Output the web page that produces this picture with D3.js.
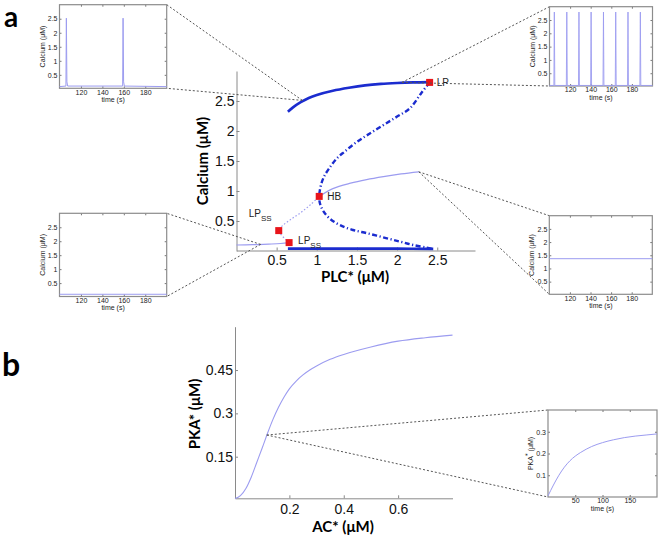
<!DOCTYPE html>
<html><head><meta charset="utf-8">
<script src="https://cdn.jsdelivr.net/npm/d3@7"></script>
<style>body{margin:0;background:#fff}svg{display:block}</style>
</head><body><svg id="c" width="661" height="539"></svg>
<script>
// ---------- DATA ----------
// Panel a: bifurcation diagram, Calcium vs PLC*
const plcTicks = [0.5, 1, 1.5, 2, 2.5];
const caTicks = [0.5, 1, 1.5, 2, 2.5];
// stable periodic orbit (max)
const stableMaxPLC = [0.64, 0.7, 0.8, 0.9, 1.0, 1.2, 1.4, 1.6, 1.8, 2.0, 2.2, 2.405];
const stableMaxCa  = [2.32, 2.39, 2.48, 2.55, 2.60, 2.67, 2.72, 2.76, 2.785, 2.80, 2.81, 2.815];
// stable periodic orbit (min)
const stableMinPLC = [0.64, 1.0, 1.5, 2.0, 2.45];
const stableMinCa  = [0.04, 0.04, 0.04, 0.04, 0.035];
// unstable periodic orbit (max then min, through HB)
const unstablePLC = [2.405, 2.3, 2.16, 2.0, 1.83, 1.65, 1.5, 1.35, 1.25, 1.15, 1.09, 1.05, 1.03, 1.04, 1.086, 1.17, 1.29, 1.45, 1.63, 1.85, 2.04, 2.2, 2.37, 2.45];
const unstableCa  = [2.81, 2.63, 2.38, 2.24, 2.1, 1.95, 1.82, 1.66, 1.545, 1.37, 1.24, 1.09, 0.91, 0.79, 0.655, 0.53, 0.43, 0.35, 0.295, 0.22, 0.155, 0.1, 0.055, 0.035];
// equilibria
const eqLowPLC  = [0, 0.2, 0.4, 0.55, 0.655];
const eqLowCa   = [0.10, 0.105, 0.115, 0.125, 0.14];
const eqMidPLC  = [0.655, 0.526, 0.58, 0.68, 0.8, 0.92, 1.03];
const eqMidCa   = [0.14, 0.34, 0.43, 0.53, 0.64, 0.77, 0.91];
const eqHighPLC = [1.03, 1.2, 1.42, 1.62, 1.83, 2.05, 2.27];
const eqHighCa  = [0.91, 1.04, 1.13, 1.19, 1.24, 1.285, 1.32];
// bifurcation points
const bifNames = ["LP", "HB", "LPss", "LPss"];
const bifPLC = [2.405, 1.03, 0.526, 0.655];
const bifCa  = [2.81, 0.91, 0.34, 0.14];
// points that insets zoom on (inset order: top-left, top-right, bottom-left, bottom-right)
const zoomPLC = [0.82, 2.06, 0.30, 2.27];
const zoomCa  = [2.51, 2.81, 0.11, 1.32];

// inset time series (Calcium vs time)
const timeTicks = [120, 140, 160, 180];
const insetCaTicks = [0.5, 1, 1.5, 2, 2.5];
const ts1T  = [100, 106, 106.4, 106.9, 107.6, 158.9, 159.3, 159.8, 160.5, 200];
const ts1Ca = [0.08, 0.1, 2.52, 0.25, 0.1, 0.1, 2.52, 0.25, 0.1, 0.08];
const ts2SpikeT = [104.7, 116.8, 128.6, 140.4, 152.4, 164.3, 176.2, 188.2];
const ts2Peak = 2.8, ts2Base = 0.04;
const ts3T = [100, 200], ts3Ca = [0.1, 0.1];
const ts4T = [100, 200], ts4Ca = [1.37, 1.37];

// Panel b: PKA* vs AC*
const acTicks = [0.2, 0.4, 0.6];
const pkaTicks = [0.15, 0.3, 0.45];
const acVals  = [0, 0.02, 0.04, 0.06, 0.08, 0.1, 0.12, 0.14, 0.16, 0.18, 0.2, 0.225, 0.25, 0.275, 0.3, 0.35, 0.4, 0.5, 0.6, 0.7, 0.8];
const pkaVals = [0.005, 0.015, 0.04, 0.08, 0.13, 0.18, 0.232, 0.28, 0.321, 0.356, 0.385, 0.412, 0.433, 0.45, 0.464, 0.487, 0.504, 0.53, 0.55, 0.562, 0.571];
const zoomAC = 0.117, zoomPKA = 0.225;
const bTimeTicks = [50, 100, 150];
const bPkaTicks = [0.1, 0.2, 0.3];
const tB   = [0, 10, 20, 30, 40, 50, 60, 80, 100, 120, 140, 160, 180, 200];
const pkaB = [0.005, 0.055, 0.1, 0.137, 0.166, 0.188, 0.205, 0.232, 0.25, 0.263, 0.273, 0.28, 0.285, 0.29];

// ---------- STYLE ----------
const DARK = "#1b2ccf", LIGHT = "#9c9cf0", RED = "#e8141a", AXIS = "#8a8a8a", DASH = "#555";
const TICKFONT = "'Liberation Sans', Arial, sans-serif";
const TITLEFONT = "Lato, 'Liberation Sans', sans-serif";

const svg = d3.select("#c");
const zip = (a, b) => a.map((v, i) => [v, b[i]]);

// ---------- PANEL a MAIN ----------
const xA = d3.scaleLinear().domain([0, 2.97]).range([236.5, 475]);
const yA = d3.scaleLinear().domain([0, 3]).range([251, 71]);
const lineA = d3.line().x(d => xA(d[0])).y(d => yA(d[1])).curve(d3.curveCatmullRom);

function styleAxis(g, size) {
  g.select(".domain").attr("stroke", AXIS).attr("stroke-width", 1);
  g.selectAll(".tick line").attr("stroke", AXIS);
  g.selectAll(".tick text").attr("font-family", TICKFONT).attr("font-size", size).attr("fill", "#111");
}

const gA = svg.append("g");
gA.append("g").attr("transform", `translate(0,${yA(0) - 0.5})`)
  .call(d3.axisBottom(xA).tickValues(plcTicks).tickFormat(d3.format("")).tickSizeInner(-3).tickSizeOuter(0).tickPadding(5))
  .call(g => styleAxis(g, 14));
gA.append("g").attr("transform", `translate(${xA(0)},0)`)
  .call(d3.axisLeft(yA).tickValues(caTicks).tickFormat(d3.format("")).tickSizeInner(-3).tickSizeOuter(0).tickPadding(2))
  .call(g => styleAxis(g, 14));

gA.append("text").attr("transform", `translate(208,161) rotate(-90)`).attr("text-anchor", "middle")
  .attr("font-family", TITLEFONT).attr("font-weight", "bold").attr("font-size", 15).text("Calcium (μM)");
gA.append("text").attr("x", 355).attr("y", 282).attr("text-anchor", "middle")
  .attr("font-family", TITLEFONT).attr("font-weight", "bold").attr("font-size", 15).text("PLC* (μM)");

// zoom connector lines for panel a insets
const insetsA = [
  {x0: 59.5, x1: 166.7, y0: 4.7, y1: 88.3, side: "right"},
  {x0: 549.5, x1: 652.5, y0: 6.7, y1: 86, side: "left"},
  {x0: 59.5, x1: 166.7, y0: 213.3, y1: 296.5, side: "right"},
  {x0: 549.3, x1: 652.3, y0: 215.7, y1: 294.3, side: "left"}
];
insetsA.forEach((b, i) => {
  const ex = b.side === "right" ? b.x1 : b.x0;
  [b.y0, b.y1].forEach(ey => {
    svg.append("line").attr("x1", xA(zoomPLC[i])).attr("y1", yA(zoomCa[i])).attr("x2", ex).attr("y2", ey)
      .attr("stroke", DASH).attr("stroke-width", 1).attr("stroke-dasharray", "2,2");
  });
});

// curves
gA.append("path").attr("d", lineA(zip(eqLowPLC, eqLowCa))).attr("fill", "none").attr("stroke", LIGHT).attr("stroke-width", 1.2);
gA.append("path").attr("d", lineA(zip(eqMidPLC, eqMidCa))).attr("fill", "none").attr("stroke", LIGHT).attr("stroke-width", 1.2).attr("stroke-dasharray", "1.5,2");
gA.append("path").attr("d", lineA(zip(eqHighPLC, eqHighCa))).attr("fill", "none").attr("stroke", LIGHT).attr("stroke-width", 1.2);
gA.append("path").attr("d", lineA(zip(unstablePLC, unstableCa))).attr("fill", "none").attr("stroke", DARK).attr("stroke-width", 2.4).attr("stroke-dasharray", "5,2.5,1.2,2.5");
gA.append("path").attr("d", lineA(zip(stableMaxPLC, stableMaxCa))).attr("fill", "none").attr("stroke", DARK).attr("stroke-width", 2.6);
gA.append("path").attr("d", lineA(zip(stableMinPLC, stableMinCa))).attr("fill", "none").attr("stroke", DARK).attr("stroke-width", 2.6);

// bifurcation markers
bifPLC.forEach((p, i) => {
  gA.append("rect").attr("x", xA(p) - 3.5).attr("y", yA(bifCa[i]) - 3.5).attr("width", 7).attr("height", 7).attr("fill", RED);
});
const lblOff = [[7, 3.5], [8, 4], [-30, -14], [9, 1]];
bifNames.forEach((n, i) => {
  const t = gA.append("text").attr("x", xA(bifPLC[i]) + lblOff[i][0]).attr("y", yA(bifCa[i]) + lblOff[i][1])
    .attr("font-family", TICKFONT).attr("font-size", 10).attr("fill", "#222");
  if (n === "LPss") { t.append("tspan").text("LP"); t.append("tspan").attr("dy", 4).attr("font-size", 8).text("SS"); }
  else t.text(n);
});

// ---------- INSETS ----------
function inset(b, xDom, yDom, xt, yt, ylabel, ylabelStar) {
  const x = d3.scaleLinear().domain(xDom).range([b.x0, b.x1]);
  const y = d3.scaleLinear().domain(yDom).range([b.y1, b.y0]);
  const g = svg.append("g");
  g.append("rect").attr("x", b.x0).attr("y", b.y0).attr("width", b.x1 - b.x0).attr("height", b.y1 - b.y0).attr("fill", "#fff");
  const st = (s) => { s.select(".domain").remove(); s.selectAll(".tick line").attr("stroke", "#777");
    s.selectAll(".tick text").attr("font-family", TICKFONT).attr("font-size", 7).attr("fill", "#222"); };
  g.append("g").attr("transform", `translate(0,${b.y1})`).call(d3.axisBottom(x).tickValues(xt).tickFormat(d3.format("")).tickSizeInner(-2).tickPadding(1.5)).call(st);
  g.append("g").attr("transform", `translate(0,${b.y0})`).call(d3.axisTop(x).tickValues(xt).tickFormat("").tickSizeInner(-2)).call(st);
  g.append("g").attr("transform", `translate(${b.x0},0)`).call(d3.axisLeft(y).tickValues(yt).tickFormat(d3.format("")).tickSizeInner(-2).tickPadding(2)).call(st);
  g.append("g").attr("transform", `translate(${b.x1},0)`).call(d3.axisRight(y).tickValues(yt).tickFormat("").tickSizeInner(-2)).call(st);
  g.append("rect").attr("x", b.x0).attr("y", b.y0).attr("width", b.x1 - b.x0).attr("height", b.y1 - b.y0)
    .attr("fill", "none").attr("stroke", "#8c8c8c").attr("stroke-width", 1.2);
  g.append("text").attr("x", (b.x0 + b.x1) / 2).attr("y", b.y1 + 13.8).attr("text-anchor", "middle")
    .attr("font-family", TICKFONT).attr("font-size", 7).attr("fill", "#222").text("time (s)");
  const yl = g.append("text").attr("transform", `translate(${b.x0 - 15},${(b.y0 + b.y1) / 2}) rotate(-90)`).attr("text-anchor", "middle")
    .attr("font-family", TICKFONT).attr("font-size", 7).attr("fill", "#222");
  if (ylabelStar) { yl.append("tspan").text("PKA"); yl.append("tspan").attr("dy", -3).text("*"); yl.append("tspan").attr("dy", 3).text(" (μM)"); }
  else yl.text(ylabel);
  const line = d3.line().x(d => x(d[0])).y(d => y(d[1]));
  return {g, x, y, line};
}

const i1 = inset(insetsA[0], [100, 200], [0.02, 3], timeTicks, insetCaTicks, "Calcium (μM)");
i1.g.append("path").attr("d", i1.line(zip(ts1T, ts1Ca))).attr("fill", "none").attr("stroke", LIGHT).attr("stroke-width", 1);

const i2 = inset(insetsA[1], [100, 200], [0.02, 3], timeTicks, insetCaTicks, "Calcium (μM)");
const ts2Pts = [[100, ts2Base]];
ts2SpikeT.forEach(t => { ts2Pts.push([t - 0.45, ts2Base], [t, ts2Peak], [t + 0.45, ts2Base]); });
ts2Pts.push([200, ts2Base]);
i2.g.append("path").attr("d", i2.line(ts2Pts)).attr("fill", "none").attr("stroke", LIGHT).attr("stroke-width", 0.9);

const i3 = inset(insetsA[2], [100, 200], [0.02, 3], timeTicks, insetCaTicks, "Calcium (μM)");
i3.g.append("path").attr("d", i3.line(zip(ts3T, ts3Ca))).attr("fill", "none").attr("stroke", LIGHT).attr("stroke-width", 1);

const i4 = inset(insetsA[3], [100, 200], [0.02, 3], timeTicks, insetCaTicks, "Calcium (μM)");
i4.g.append("path").attr("d", i4.line(zip(ts4T, ts4Ca))).attr("fill", "none").attr("stroke", LIGHT).attr("stroke-width", 1);

// ---------- PANEL b ----------
const xB = d3.scaleLinear().domain([0, 0.8]).range([235, 452.5]);
const yB = d3.scaleLinear().domain([0.006, 0.6]).range([498.3, 326.7]);
const gB = svg.append("g");
gB.append("g").attr("transform", `translate(0,${yB.range()[0]})`)
  .call(d3.axisBottom(xB).tickValues(acTicks).tickFormat(d3.format("")).tickSizeInner(-3).tickSizeOuter(0).tickPadding(6))
  .call(g => styleAxis(g, 14));
gB.append("g").attr("transform", `translate(${xB(0)},0)`)
  .call(d3.axisLeft(yB).tickValues(pkaTicks).tickFormat(d3.format("")).tickSizeInner(-3).tickSizeOuter(0).tickPadding(2))
  .call(g => styleAxis(g, 14));
gB.append("text").attr("transform", `translate(200,414) rotate(-90)`).attr("text-anchor", "middle")
  .attr("font-family", TITLEFONT).attr("font-weight", "bold").attr("font-size", 15).text("PKA* (μM)");
gB.append("text").attr("x", 343).attr("y", 532).attr("text-anchor", "middle")
  .attr("font-family", TITLEFONT).attr("font-weight", "bold").attr("font-size", 15).text("AC* (μM)");

const insetBBox = {x0: 548, x1: 657, y0: 410, y1: 497};
[insetBBox.y0, insetBBox.y1].forEach(ey => {
  svg.append("line").attr("x1", xB(zoomAC)).attr("y1", yB(zoomPKA)).attr("x2", insetBBox.x0).attr("y2", ey)
    .attr("stroke", DASH).attr("stroke-width", 1).attr("stroke-dasharray", "2,2");
});
const lineB = d3.line().x(d => xB(d[0])).y(d => yB(d[1])).curve(d3.curveMonotoneX);
gB.append("path").attr("d", lineB(zip(acVals, pkaVals))).attr("fill", "none").attr("stroke", LIGHT).attr("stroke-width", 1.1);

const iB = inset(insetBBox, [0, 200], [0, 0.4], bTimeTicks, bPkaTicks, "", true);
iB.g.append("path").attr("d", iB.line.curve(d3.curveMonotoneX)(zip(tB, pkaB))).attr("fill", "none").attr("stroke", LIGHT).attr("stroke-width", 1);

// ---------- panel letters ----------
svg.append("text").attr("x", 4).attr("y", 27).attr("font-family", TITLEFONT).attr("font-weight", "bold").attr("font-size", 28).text("a");
svg.append("text").attr("x", 2).attr("y", 376).attr("font-family", TITLEFONT).attr("font-weight", "bold").attr("font-size", 32).text("b");
</script></body></html>
